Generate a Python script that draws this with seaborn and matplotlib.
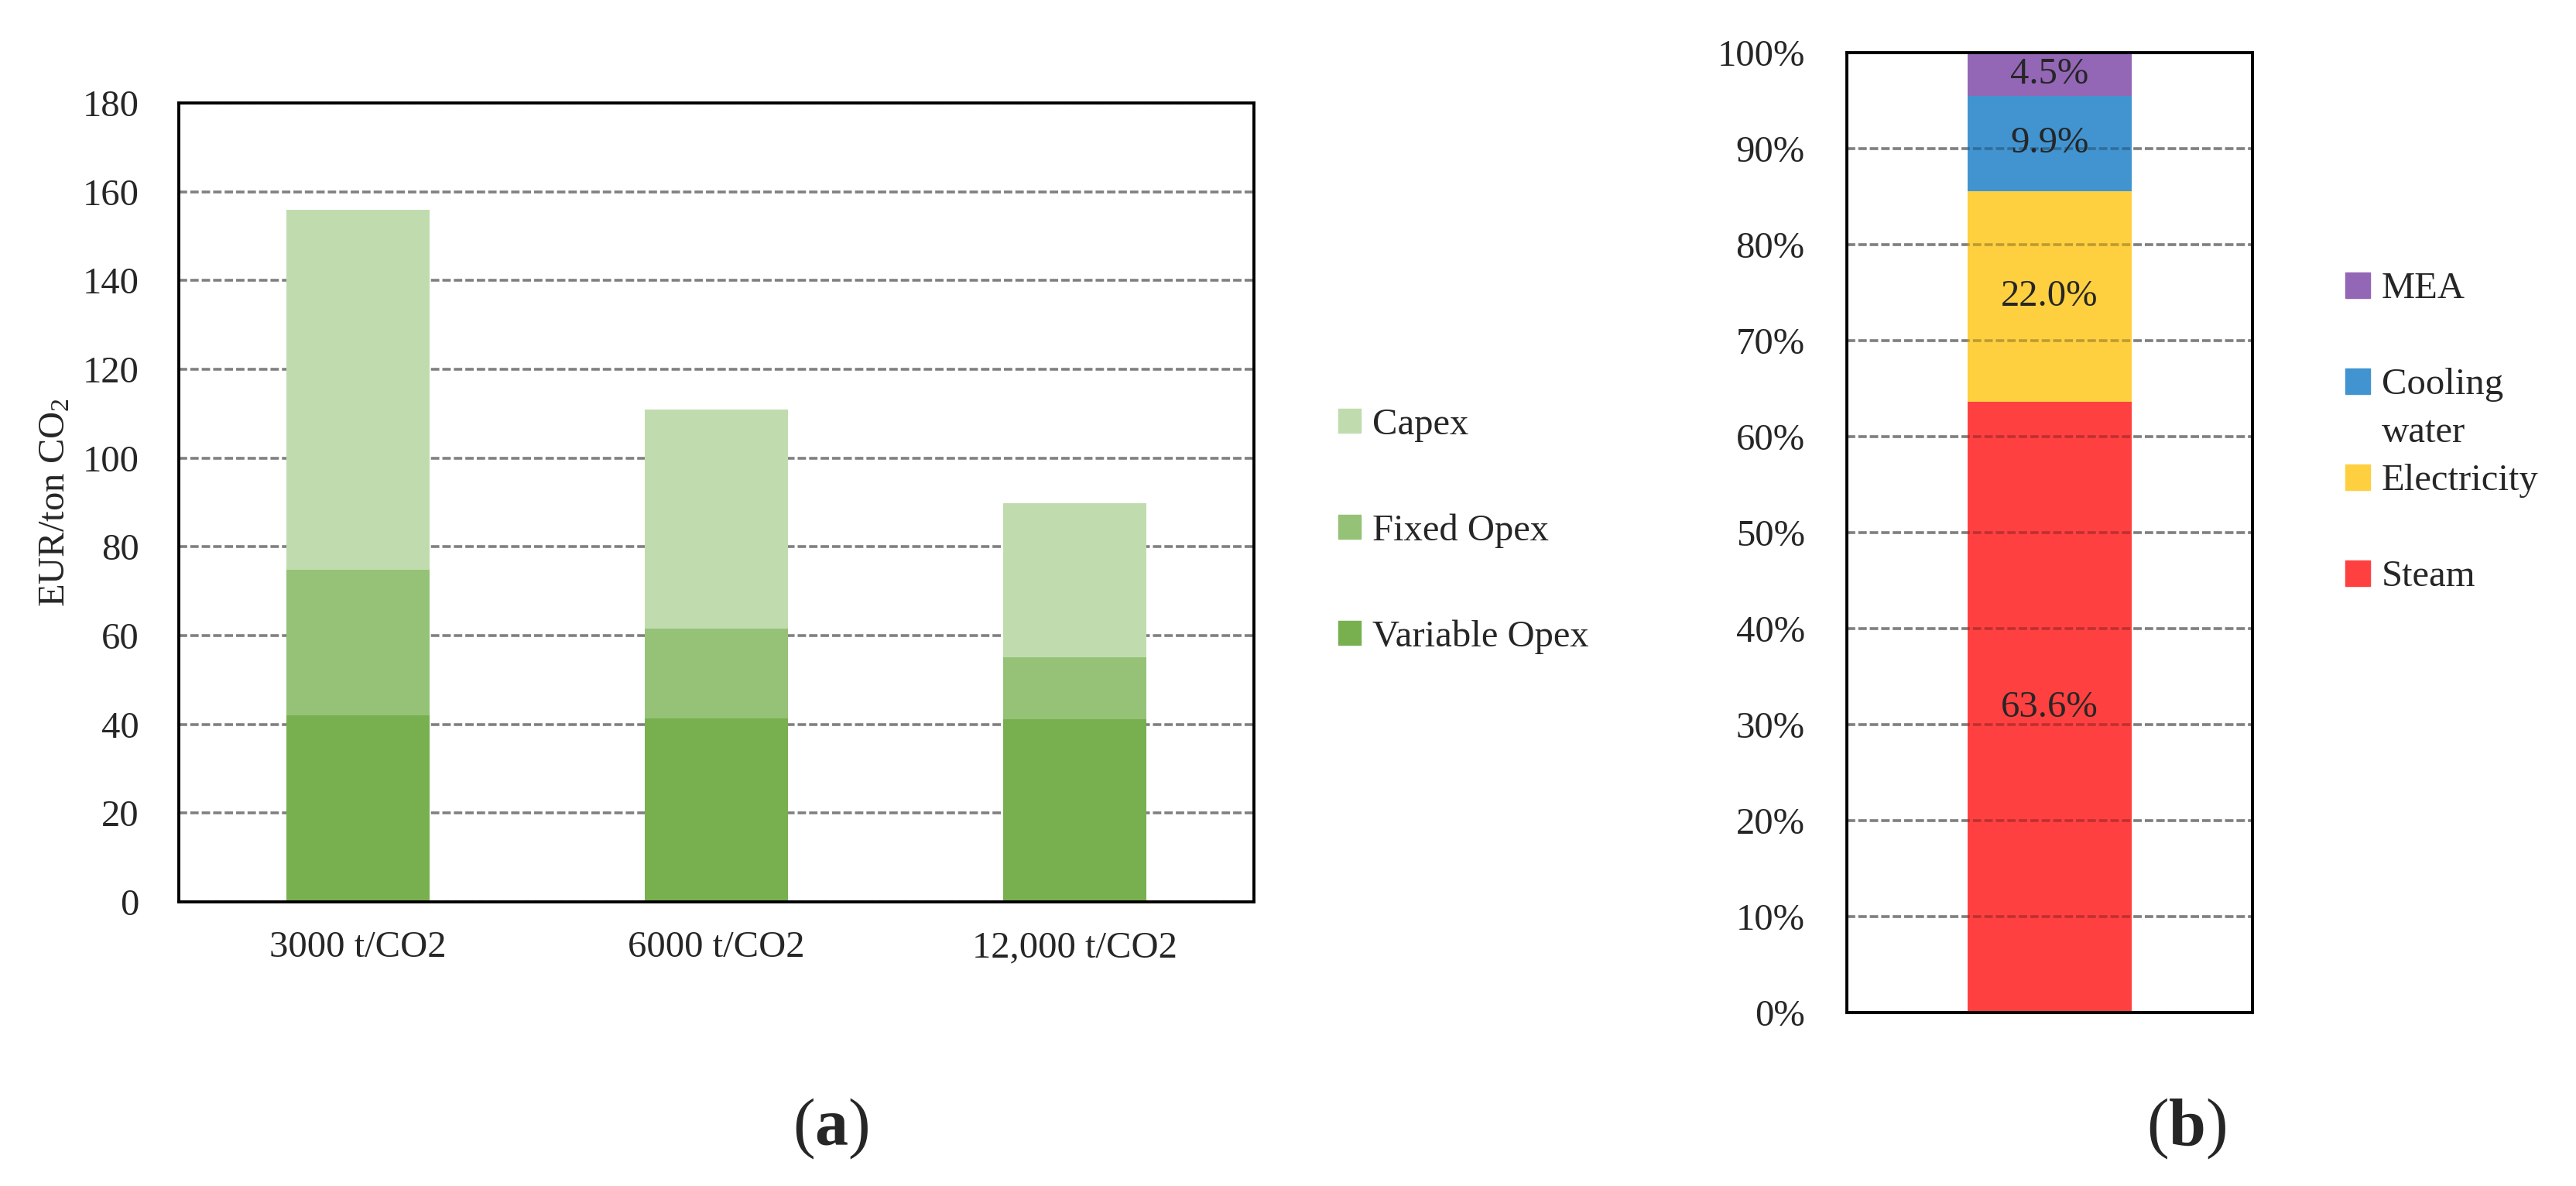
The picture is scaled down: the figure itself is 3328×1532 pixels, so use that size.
import numpy as np
import pandas as pd
import matplotlib
matplotlib.use("Agg")
import matplotlib.pyplot as plt
import matplotlib.patches as mpatches
import seaborn as sns

# --- data (a): cost breakdown per capture size ---
sizes = ["3000 t/CO2", "6000 t/CO2", "12,000 t/CO2"]
variable_opex = [42.0, 41.3, 41.2]
fixed_opex = [32.8, 20.2, 13.9]
capex = [81.1, 49.4, 34.8]

# --- data (b): variable opex shares ---
share_names = ["Steam", "Electricity", "Cooling water", "MEA"]
share_values = [63.6, 22.0, 9.9, 4.5]

sns.set_theme(style="white")
plt.rcParams["font.family"] = ["Liberation Serif", "DejaVu Serif"]
plt.rcParams["mathtext.fontset"] = "custom"
plt.rcParams["mathtext.rm"] = "Liberation Serif"
plt.rcParams["mathtext.it"] = "Liberation Serif:italic"
plt.rcParams["mathtext.bf"] = "Liberation Serif:bold"

FS = 35
DASH = (0, (3.0, 1.1))
GRID_LW = 2.6
grid_style = dict(color="#808080", linestyle=DASH, linewidth=GRID_LW)

fig = plt.figure(figsize=(33.28, 15.32), dpi=100)
ax_a = fig.add_axes([0.0694, 0.2396, 0.4174, 0.6736])
ax_b = fig.add_axes([0.7169, 0.1462, 0.1575, 0.8094])

# ---------- (a) stacked bars ----------
col_var, col_fix, col_cap = "#78B050", "#95C277", "#C0DCAE"
var_arr = np.array(variable_opex)
fix_top = var_arr + np.array(fixed_opex)
cap_top = fix_top + np.array(capex)

for tops, col in [(cap_top, col_cap), (fix_top, col_fix), (var_arr, col_var)]:
    sns.barplot(x=sizes, y=tops, color=col, saturation=1, width=0.4,
                linewidth=0, ax=ax_a)

ax_a.set_ylim(0, 180)
ax_a.set_xlim(-0.5, 2.5)
ax_a.set_yticks(range(0, 181, 20))
ax_a.yaxis.grid(True, **grid_style)
ax_a.set_axisbelow(True)
ax_a.tick_params(axis="y", length=0, pad=37, labelsize=FS)
ax_a.tick_params(axis="x", length=0, pad=27, labelsize=FS)
ax_a.set_ylabel("EUR/ton CO$_2$", fontsize=FS)
ax_a.yaxis.set_label_coords(-0.099, 0.5)
for s in ax_a.spines.values():
    s.set_color("black")
    s.set_linewidth(2.8)

leg_a = [mpatches.Patch(color=col_cap, label="Capex"),
         mpatches.Patch(color=col_fix, label="Fixed Opex"),
         mpatches.Patch(color=col_var, label="Variable Opex")]
fig.legend(handles=leg_a, loc="upper left", bbox_to_anchor=(0.5195, 0.656),
           frameon=False, fontsize=FS, handlelength=0.6, handleheight=0.6,
           handletextpad=0.3, labelspacing=1.9, borderpad=0, borderaxespad=0)

# ---------- (b) single stacked bar ----------
share_colors = {"Steam": "#FF4040", "Electricity": "#FED040",
                "Cooling water": "#4194D0", "MEA": "#9366B6"}
cum = np.cumsum(share_values)
for name, top in reversed(list(zip(share_names, cum))):
    sns.barplot(x=[""], y=[top], color=share_colors[name], saturation=1,
                width=0.405, linewidth=0, ax=ax_b)

mids = cum - np.array(share_values) / 2
for v, m in zip(share_values, mids):
    ax_b.text(0, m, f"{v:.1f}%", ha="center", va="center", fontsize=FS, zorder=5)

ax_b.set_ylim(0, 100)
ax_b.set_xlim(-0.5, 0.5)
ax_b.set_yticks(range(0, 101, 10))
ax_b.set_yticklabels([f"{t}%" for t in range(0, 101, 10)])
# grid under the bar plus a faint copy on top, so the dashes show through the bar
ax_b.yaxis.grid(True, color="#ABABAB", linestyle=DASH, linewidth=GRID_LW)
ax_b.set_axisbelow(True)
for t in ax_b.get_yticks()[1:-1]:
    ax_b.axhline(t, color="black", alpha=0.25, linestyle=DASH, linewidth=GRID_LW, zorder=3)
ax_b.tick_params(axis="y", length=0, pad=39, labelsize=FS)
ax_b.tick_params(axis="x", length=0, labelbottom=False)
for s in ax_b.spines.values():
    s.set_color("black")
    s.set_linewidth(2.8)

blank = mpatches.Patch(facecolor="none", edgecolor="none")
leg_b_handles = [mpatches.Patch(color=share_colors["MEA"]), blank,
                 mpatches.Patch(color=share_colors["Cooling water"]), blank,
                 mpatches.Patch(color=share_colors["Electricity"]), blank,
                 mpatches.Patch(color=share_colors["Steam"])]
leg_b_labels = ["MEA", " ", "Cooling", "water", "Electricity", " ", "Steam"]
fig.legend(handles=leg_b_handles, labels=leg_b_labels, loc="upper left",
           bbox_to_anchor=(0.9105, 0.7707), frameon=False, fontsize=FS,
           handlelength=0.66, handleheight=0.66, handletextpad=0.3,
           labelspacing=0.37, borderpad=0, borderaxespad=0)

# panel captions
fig.text(1073 / 3328, 0.034, r"($\mathbf{a}$)", ha="center", va="baseline", fontsize=62)
fig.text(2825 / 3328, 0.034, r"($\mathbf{b}$)", ha="center", va="baseline", fontsize=62)

fig.savefig("out.png", dpi=100)
